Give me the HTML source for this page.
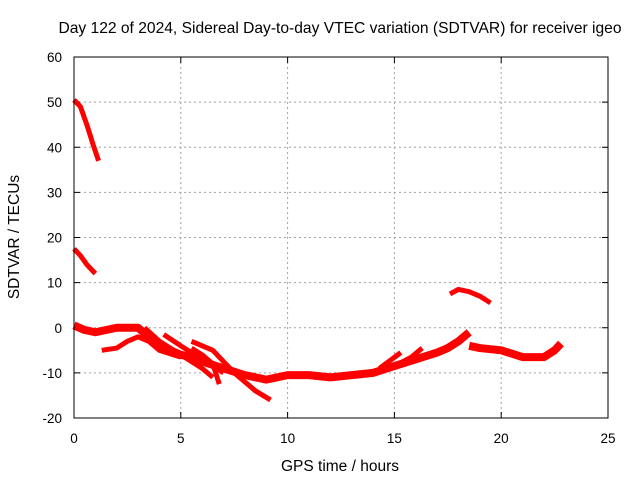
<!DOCTYPE html>
<html><head><meta charset="utf-8"><style>
body{margin:0;background:#fff}
svg{display:block;font-family:"Liberation Sans",sans-serif}
</style></head><body>
<svg id="chart" width="640" height="480">
<text x="340" y="33" text-anchor="middle" font-size="15.6">Day 122 of 2024, Sidereal Day-to-day VTEC variation (SDTVAR) for receiver igeo</text>
<text x="340" y="471" text-anchor="middle" font-size="15.5">GPS time / hours</text>
<text transform="translate(19,237) rotate(-90)" text-anchor="middle" font-size="15.5">SDTVAR / TECUs</text>
<g id="grid"></g>
<g id="ticks"></g>
<g id="series"></g>
<rect x="74" y="57" width="534" height="361" fill="none" stroke="#000" stroke-width="1"/>
</svg>
<script>
const xTicks=[0,5,10,15,20,25];
const yTicks=[-20,-10,0,10,20,30,40,50,60];
const s1=[[0,50.5],[0.3,49],[0.6,45],[0.9,40.5],[1.15,37]];
const s2=[[0,17.5],[0.3,16],[0.6,14],[1.0,12]];
const s3=[[0,0.5],[0.5,-0.5],[1,-1],[1.5,-0.5],[2,0],[2.5,0],[3,0],[3.5,-2],[4,-4],[4.5,-5],[5,-6],[5.5,-6.5],[6,-7.5],[7,-9],[8,-10.5],[9,-11.5],[10,-10.5],[11,-10.5],[12,-11],[13,-10.5],[14,-10],[15,-8.5],[16,-7],[17,-5.5],[17.5,-4.5],[18,-3],[18.5,-1]];
const s4=[[18.5,-4],[19,-4.5],[20,-5],[21,-6.5],[22,-6.5],[22.5,-5],[22.8,-3.5]];
const s5=[[1.3,-5],[2,-4.5],[2.5,-3],[3,-2],[3.5,-3],[4,-5],[5,-6.5]];
const s6=[[3.3,0],[4,-3],[5,-6],[6,-9],[6.5,-11]];
const s7=[[4.2,-1.5],[5,-4],[6,-7],[7,-10]];
const s8=[[5.5,-3],[6.5,-5],[7.5,-10],[8.5,-14],[9.2,-16]];
const s9=[[5.5,-4.5],[6,-6],[6.5,-8],[6.8,-12.5]];
const s10=[[14.3,-9],[15.3,-5.5]];
const s11=[[15.2,-8],[15.8,-6.5],[16.3,-4.5]];
const s12=[[17.6,7.5],[18,8.5],[18.5,8],[19,7],[19.5,5.5]];
const allSeries=[s1,s2,s3,s4,s5,s6,s7,s8,s9,s10,s11,s12];
const NS="http://www.w3.org/2000/svg";
const X0=74,X1=608,Y0=418,Y1=57;
function xs(v){return X0+(v-0)/(25-0)*(X1-X0);}
function ys(v){return Y0-(v+20)/80*(Y0-Y1);}
const grid=document.getElementById('grid'),ticks=document.getElementById('ticks'),ser=document.getElementById('series');
function mk(tag,attrs,parent){const e=document.createElementNS(NS,tag);for(const k in attrs)e.setAttribute(k,attrs[k]);parent.appendChild(e);return e;}
xTicks.forEach(t=>{
  const x=xs(t);
  if(t>0&&t<25){const g=mk('line',{x1:x,x2:x,y1:Y1,y2:Y0,stroke:'#a0a0a0','stroke-dasharray':'2,3'},grid);
  
  }
  const l=mk('text',{x:x,y:443,'text-anchor':'middle','font-size':'13.5'},ticks);l.textContent=t;
  
  
  mk('line',{x1:x,x2:x,y1:Y0,y2:Y0-6,stroke:'#000'},ticks);mk('line',{x1:x,x2:x,y1:Y1,y2:Y1+6,stroke:'#000'},ticks);
});
yTicks.forEach(t=>{
  const y=ys(t);
  if(t>-20&&t<60){const g=mk('line',{x1:X0,x2:X1,y1:y,y2:y,stroke:'#a0a0a0','stroke-dasharray':'2,3'},grid);
  
  }
  const l=mk('text',{x:62,y:y+5,'text-anchor':'end','font-size':'13.5'},ticks);l.textContent=t;
  
  
  mk('line',{x1:X0,x2:X0+6,y1:y,y2:y,stroke:'#000'},ticks);mk('line',{x1:X1,x2:X1-6,y1:y,y2:y,stroke:'#000'},ticks);
});
allSeries.forEach((s,i)=>{
  const p=mk('polyline',{points:s.map(d=>xs(d[0])+','+ys(d[1])).join(' '),fill:'none',stroke:'#ff0000','stroke-width':(i===2||i===3)?8:5,'stroke-linejoin':'round','stroke-linecap':'butt'},ser);
  
  
});
</script>
</body></html>
